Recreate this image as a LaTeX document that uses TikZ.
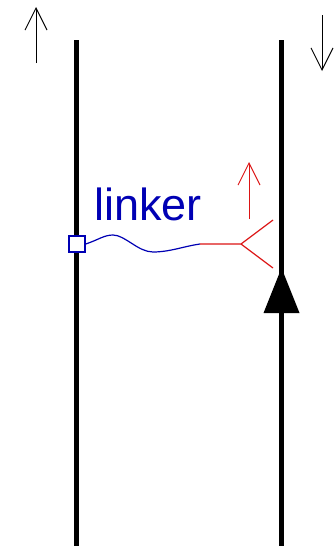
\documentclass[tikz,border=0pt]{standalone}
\usepackage{fontspec}
\setmainfont{Liberation Sans}
\usetikzlibrary{arrows.meta}
\definecolor{lblue}{RGB}{0,0,180}
\definecolor{lred}{RGB}{220,20,20}
\begin{document}
\begin{tikzpicture}[x=1pt,y=-1pt,
  strand/.style={line width=5.5pt},
  dirarrow/.style={line width=1pt,-{Straight Barb[length=22pt,width=22pt,line width=1pt]}},
  redarrow/.style={line width=1pt,lred,-{Straight Barb[length=22pt,width=22pt,line width=1pt]}},
  wire/.style={line width=1.2pt,lblue},
  redwire/.style={line width=1.2pt,lred}]
\useasboundingbox (0,0) rectangle (334,546);
% strands
\coordinate (Ltop) at (76.5,40);
\coordinate (Lbot) at (76.5,546);
\coordinate (Rtop) at (281.5,40);
\coordinate (Rbot) at (281.5,546);
\draw[strand] (Ltop) -- (Lbot);
\draw[strand] (Rtop) -- (Rbot);
% direction arrows
\coordinate (la0) at (36,63);
\coordinate (la1) at (36,7);
\coordinate (ra0) at (322,15);
\coordinate (ra1) at (322,71);
\draw[dirarrow] (la0) -- (la1);
\draw[dirarrow] (ra0) -- (ra1);
% triangle on right strand
\coordinate (tt) at (281.5,268);
\coordinate (tl) at (263.5,313);
\coordinate (tr) at (299.5,313);
\fill (tt) -- (tl) -- (tr) -- cycle;
% linker
\node[draw=lblue,line width=1.5pt,fill=white,minimum size=16pt,inner sep=0pt] (sq) at (77,244) {};
\coordinate (w1) at (200,244);
\coordinate (w2) at (241,244);
\coordinate (b1) at (273,220);
\coordinate (b2) at (273,268);
\draw[wire] (sq.east) .. controls (98,240) and (104,235) .. (113,235)
  .. controls (125,235) and (138,252) .. (153,252)
  .. controls (170,252) and (185,246) .. (w1);
\draw[redwire] (w1) -- (w2) -- (b1);
\draw[redwire] (w2) -- (b2);
\coordinate (rr0) at (249,219);
\coordinate (rr1) at (249,162);
\draw[redarrow] (rr0) -- (rr1);
\node[lblue,font=\fontsize{45}{50}\selectfont,anchor=base west,inner sep=0pt] (lbl) at (94,220) {linker};
\end{tikzpicture}
\end{document}
